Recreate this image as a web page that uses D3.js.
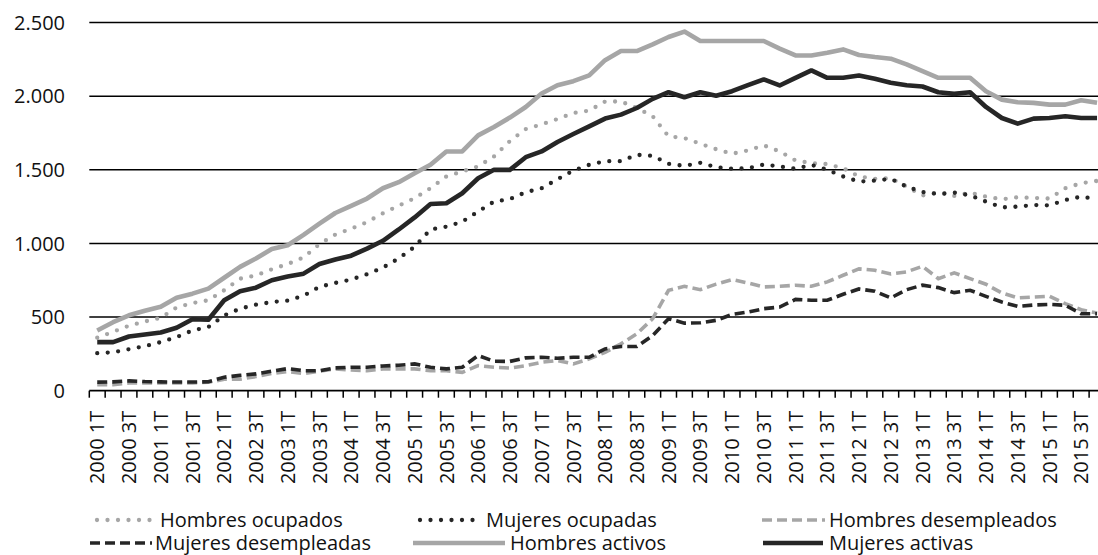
<!DOCTYPE html>
<html>
<head>
<meta charset="utf-8">
<script src="https://cdn.jsdelivr.net/npm/d3@7"></script>
<style>
	body { margin: 0; background: #fff; }
	svg { display: block; }
	text { font-family: "Open Sans", sans-serif; fill: #111; }
</style>
</head>
<body>
<div id="chart"></div>
<script>
const YEARS = d3.range(2000, 2016);
const QUARTERS = ["1T", "2T", "3T", "4T"];
const CATEGORIES = [];
YEARS.forEach(function(y) {
	QUARTERS.forEach(function(q) { CATEGORIES.push(y + " " + q); });
});

const Y_TICKS = [0, 500, 1000, 1500, 2000, 2500];

const HOMBRES_OCUPADOS = [360, 400, 441, 470, 495, 565, 595, 614, 682, 761, 782, 825, 860, 905, 995, 1060,
	1100, 1145, 1205, 1257, 1307, 1375, 1455, 1489, 1523, 1591, 1695, 1777, 1809, 1845, 1886, 1902,
	1964, 1964, 1920, 1864, 1727, 1716, 1677, 1640, 1609, 1632, 1666, 1625, 1564, 1545, 1539, 1511,
	1455, 1439, 1443, 1386, 1326, 1345, 1323, 1345, 1318, 1300, 1314, 1309, 1305, 1375, 1409, 1425];
const MUJERES_OCUPADAS = [255, 261, 282, 302, 330, 364, 409, 432, 511, 557, 584, 602, 612, 645, 705, 732,
	755, 791, 836, 898, 977, 1095, 1114, 1148, 1216, 1284, 1301, 1348, 1375, 1436, 1495, 1534,
	1559, 1559, 1602, 1595, 1541, 1527, 1548, 1518, 1507, 1511, 1536, 1523, 1507, 1534, 1500, 1455,
	1420, 1427, 1439, 1386, 1349, 1336, 1345, 1327, 1284, 1245, 1250, 1261, 1259, 1295, 1318, 1300];
const HOMBRES_DESEMPLEADOS = [41, 41, 52, 53, 53, 53, 53, 57, 78, 78, 96, 117, 130, 116, 132, 148,
	141, 136, 148, 148, 148, 136, 136, 125, 170, 159, 154, 170, 193, 205, 182, 216,
	261, 318, 386, 489, 682, 709, 686, 724, 755, 732, 705, 709, 716, 709, 739, 784,
	827, 818, 793, 807, 845, 761, 800, 761, 723, 664, 630, 636, 641, 591, 550, 527];
const MUJERES_DESEMPLEADAS = [58, 60, 67, 62, 60, 59, 59, 61, 92, 104, 114, 133, 150, 136, 136, 155,
	159, 159, 168, 173, 182, 159, 148, 159, 239, 200, 199, 223, 227, 220, 227, 227,
	284, 300, 300, 375, 489, 459, 461, 478, 518, 534, 557, 568, 620, 614, 614, 655,
	691, 675, 630, 686, 717, 700, 666, 682, 641, 602, 573, 582, 586, 580, 523, 523];
const HOMBRES_ACTIVOS = [409, 465, 512, 543, 570, 632, 659, 693, 767, 841, 898, 962, 988, 1058, 1134, 1207,
	1255, 1305, 1375, 1416, 1477, 1534, 1625, 1625, 1734, 1791, 1855, 1927, 2018, 2075, 2102, 2141,
	2245, 2307, 2307, 2352, 2402, 2439, 2375, 2375, 2375, 2375, 2375, 2323, 2277, 2277, 2295, 2318,
	2280, 2266, 2255, 2216, 2170, 2125, 2125, 2125, 2034, 1977, 1959, 1955, 1943, 1943, 1973, 1955];
const MUJERES_ACTIVAS = [330, 330, 368, 382, 395, 427, 485, 482, 614, 676, 700, 750, 775, 795, 860, 891,
	917, 965, 1018, 1095, 1177, 1268, 1273, 1341, 1443, 1500, 1500, 1586, 1625, 1689, 1743, 1795,
	1848, 1875, 1920, 1982, 2027, 1993, 2027, 2003, 2034, 2075, 2114, 2073, 2125, 2175, 2125, 2125,
	2141, 2118, 2091, 2075, 2066, 2027, 2016, 2027, 1927, 1852, 1814, 1848, 1852, 1864, 1852, 1852];

const GRAY = "#a6a6a6";
const DARK = "#262626";

// series in drawing order (later on top), same order as the legend
var series = [
	{ name: "Hombres ocupados", values: HOMBRES_OCUPADOS, color: GRAY, style: "dot" },
	{ name: "Mujeres ocupadas", values: MUJERES_OCUPADAS, color: DARK, style: "dot" },
	{ name: "Hombres desempleados", values: HOMBRES_DESEMPLEADOS, color: GRAY, style: "dash" },
	{ name: "Mujeres desempleadas", values: MUJERES_DESEMPLEADAS, color: DARK, style: "dash" },
	{ name: "Hombres activos", values: HOMBRES_ACTIVOS, color: GRAY, style: "solid" },
	{ name: "Mujeres activas", values: MUJERES_ACTIVAS, color: DARK, style: "solid" },
];

// legend slots: symbol start/end and text start, rows of three
var legendSlots = [
	{ x1: 97, x2: 150, tx: 160, row: 0 },
	{ x1: 420, x2: 474, tx: 486, row: 0 },
	{ x1: 762, x2: 825, tx: 829, row: 0 },
	{ x1: 90, x2: 152, tx: 155, row: 1 },
	{ x1: 413, x2: 505, tx: 510, row: 1 },
	{ x1: 763, x2: 823, tx: 829, row: 1 },
];

var width = 1098;
var height = 555;
var margin = { top: 22.6, left: 89.3, bottom: 390.7 };
var plotRight = margin.left + 15.87 * CATEGORIES.length;

var svg = d3.select("#chart").append("svg")
	.attr("width", width)
	.attr("height", height);

var x = d3.scaleBand()
	.domain(CATEGORIES)
	.range([margin.left, plotRight]);

var y = d3.scaleLinear()
	.domain([0, 2500])
	.range([margin.bottom, margin.top]);

function styleLine(sel, s) {
	sel.attr("fill", "none").attr("stroke", s.color);
	if (s.style === "dot") {
		sel.attr("stroke-width", 4.3)
			.attr("stroke-linecap", "round")
			.attr("stroke-dasharray", "0 10.5");
	} else if (s.style === "dash") {
		sel.attr("stroke-width", 3.6)
			.attr("stroke-dasharray", "10 5");
	} else {
		sel.attr("stroke-width", 4.6)
			.attr("stroke-linejoin", "round");
	}
	return sel;
}

// horizontal gridlines
svg.append("g")
	.selectAll("line")
	.data(Y_TICKS.filter(function(d) { return d > 0; }))
	.join("line")
	.attr("x1", margin.left)
	.attr("x2", width)
	.attr("y1", function(d) { return y(d); })
	.attr("y2", function(d) { return y(d); })
	.attr("stroke", "#000")
	.attr("stroke-width", 1.5);

// y labels
svg.append("g")
	.selectAll("text")
	.data(Y_TICKS)
	.join("text")
	.attr("x", 65)
	.attr("y", function(d) { return y(d); })
	.attr("dy", "0.36em")
	.attr("text-anchor", "end")
	.attr("font-size", "20px")
	.text(function(d) { return d3.format(",")(d).replace(/,/g, "."); });

// x axis: ticks on category boundaries
var xAxis = svg.append("g").attr("id", "x-axis");
xAxis.append("line")
	.attr("x1", margin.left)
	.attr("x2", width)
	.attr("y1", y(0))
	.attr("y2", y(0))
	.attr("stroke", "#000")
	.attr("stroke-width", 1.8);

xAxis.selectAll(".tick")
	.data(d3.range(CATEGORIES.length + 1))
	.join("line")
	.attr("class", "tick")
	.attr("x1", function(i) { return margin.left + i * x.step(); })
	.attr("x2", function(i) { return margin.left + i * x.step(); })
	.attr("y1", y(0))
	.attr("y2", y(0) + 7)
	.attr("stroke", "#000")
	.attr("stroke-width", 1.5);

xAxis.selectAll(".xlabel")
	.data(CATEGORIES.filter(function(d, i) { return i % 2 === 0; }))
	.join("text")
	.attr("class", "xlabel")
	.attr("text-anchor", "end")
	.attr("font-size", "20px")
	.attr("dy", "0.36em")
	.attr("transform", function(d) {
		return "translate(" + (x(d) + x.bandwidth() / 2) + "," + (y(0) + 20) + ") rotate(-90)";
	})
	.text(function(d) { return d; });

// lines
var line = d3.line()
	.x(function(d, i) { return x(CATEGORIES[i]) + x.bandwidth() / 2; })
	.y(function(d) { return y(d); });

var g = svg.append("g").attr("class", "line-area");
series.forEach(function(s) {
	g.append("path")
		.datum(s.values)
		.attr("d", line)
		.call(styleLine, s);
});

// legend
var legend = svg.append("g").attr("class", "legend");
series.forEach(function(s, i) {
	var slot = legendSlots[i];
	var ly = 520 + slot.row * 23;
	legend.append("line")
		.attr("x1", slot.x1)
		.attr("x2", slot.x2)
		.attr("y1", ly)
		.attr("y2", ly)
		.call(styleLine, s);
	legend.append("text")
		.attr("x", slot.tx)
		.attr("y", ly)
		.attr("dy", "0.36em")
		.attr("font-size", "20px")
		.text(s.name);
});
</script>
</body>
</html>
